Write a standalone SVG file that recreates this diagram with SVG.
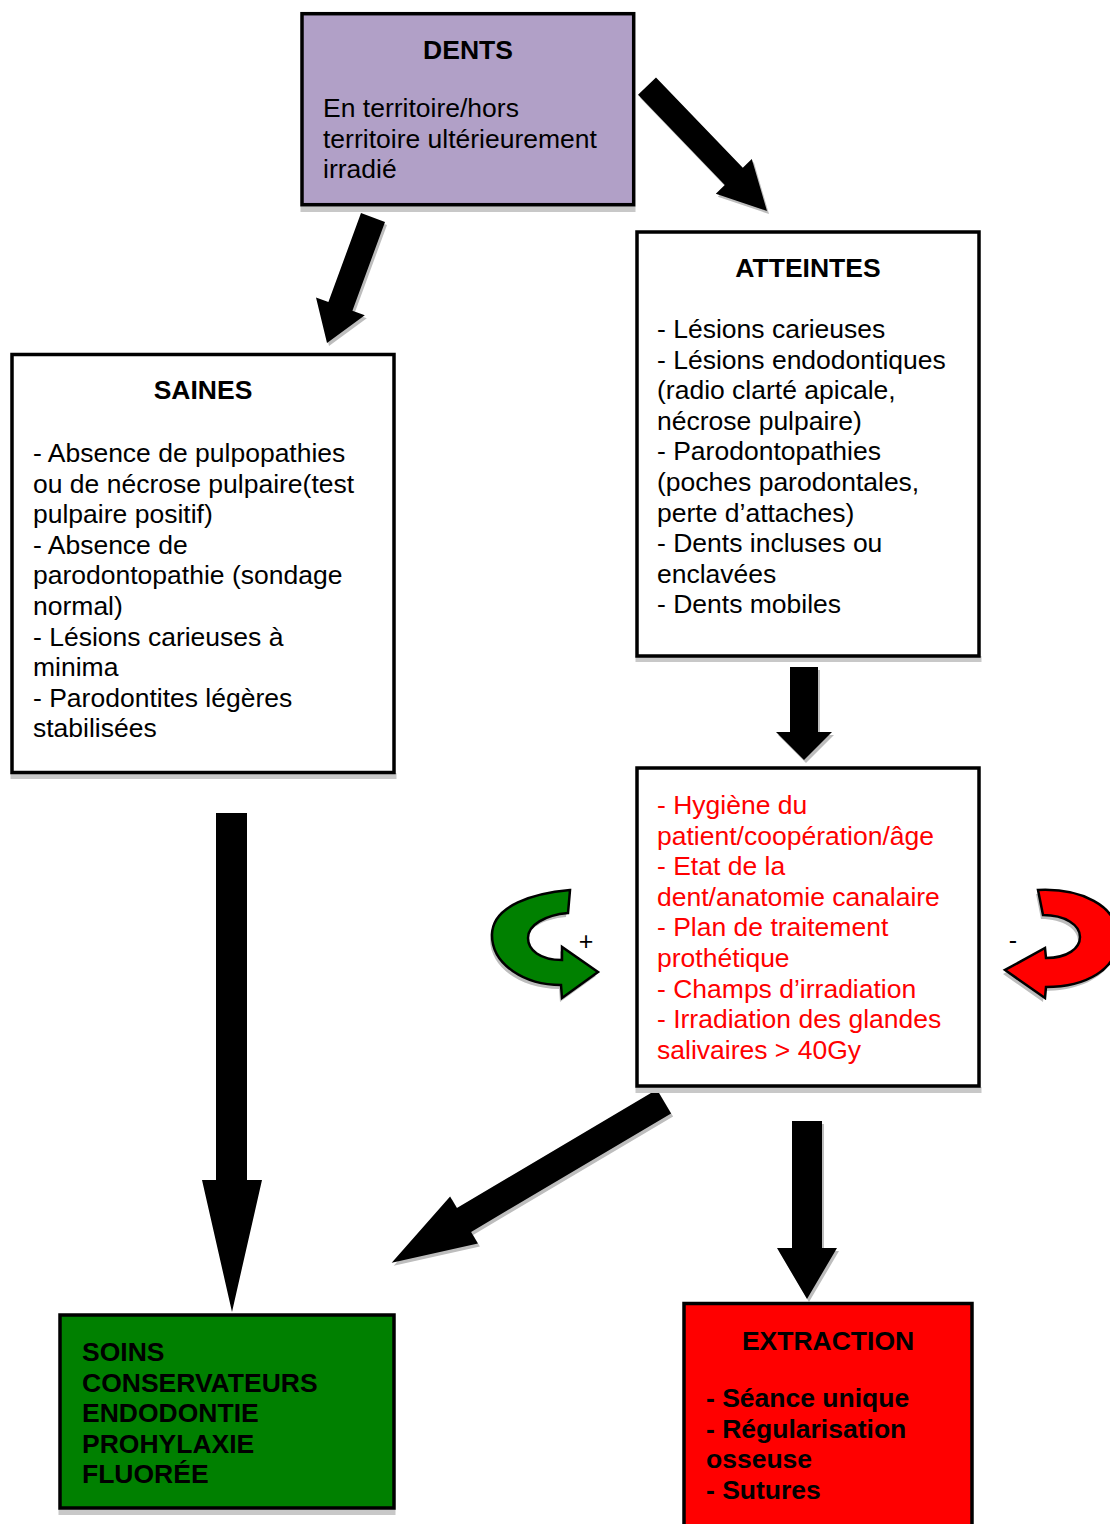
<svg xmlns="http://www.w3.org/2000/svg" width="1110" height="1524" viewBox="0 0 1110 1524">
<style>
.box{stroke:#000;stroke-width:3.5}
.sh{fill:#c8c8c8}
.t{font-family:"Liberation Sans",Arial,sans-serif;font-size:26.5px;fill:#000}
.b{font-weight:bold}
.red{fill:#ff0000}
.arr{fill:#000}
.ash{fill:#bdbdbd}
.curve{stroke:#000;stroke-width:2.5;stroke-linejoin:miter}
.sign{font-family:"Liberation Sans",Arial,sans-serif;font-size:25px;fill:#000}
</style>
<rect width="1110" height="1524" fill="#fff"/>

<g id="connectors">
  <g transform="translate(2,3)" class="ash">
    <polygon points="638,94.7 724.8,185.1 715.8,193.7 767,211 751.8,159.1 742.8,167.8 656,77.4"/>
    <polygon points="361,213.1 328.4,302 316,297.5 327,343 364.8,315.3 352.4,310.8 385,221.9"/>
    <polygon points="790,667 818,667 818,732 832,732 804,760 776,732 790,732"/>
    <polygon points="792,1121 822,1121 822,1248 837,1248 807,1299 777,1248 792,1248"/>
    <polygon points="656.9,1089.5 456.9,1207.9 450.1,1196.4 391.7,1262.7 477.9,1243.4 471.1,1231.9 671.1,1113.5"/>
  </g>
  <polygon id="a-dents-atteintes" class="arr" points="638,94.7 724.8,185.1 715.8,193.7 767,211 751.8,159.1 742.8,167.8 656,77.4"/>
  <polygon id="a-dents-saines" class="arr" points="361,213.1 328.4,302 316,297.5 327,343 364.8,315.3 352.4,310.8 385,221.9"/>
  <polygon id="a-atteintes-criteres" class="arr" points="790,667 818,667 818,732 832,732 804,760 776,732 790,732"/>
  <polygon id="a-saines-soins" class="arr" points="216,813 247,813 247,1180 262,1180 232,1312 202,1180 216,1180"/>
  <polygon id="a-criteres-extraction" class="arr" points="792,1121 822,1121 822,1248 837,1248 807,1299 777,1248 792,1248"/>
  <polygon id="a-criteres-soins" class="arr" points="656.9,1089.5 456.9,1207.9 450.1,1196.4 391.7,1262.7 477.9,1243.4 471.1,1231.9 671.1,1113.5"/>

  <g id="curve-plus">
    <path class="ash" transform="translate(-2,4)" d="M570,890 C535,893 492,905 492,935 C492,965 525,985 561,985 L562,998 L598,972 L562,947 L562,960 C540,960 528,950 528,938 C528,925 545,915 568,913 Z"/>
    <path class="curve" fill="#008000" d="M570,890 C535,893 492,905 492,935 C492,965 525,985 561,985 L562,998 L598,972 L562,947 L562,960 C540,960 528,950 528,938 C528,925 545,915 568,913 Z"/>
    <text class="sign" x="586" y="950" text-anchor="middle">+</text>
  </g>
  <g id="curve-minus">
    <path class="ash" transform="translate(-2,4)" d="M1038,890 C1080,888 1118,905 1118,938 C1118,970 1085,987 1046,987 L1045,998 L1005,970 L1045,948 L1046,958 C1068,958 1080,948 1080,937 C1080,925 1065,915 1043,915 Z"/>
    <path class="curve" fill="#ff0000" d="M1038,890 C1080,888 1118,905 1118,938 C1118,970 1085,987 1046,987 L1045,998 L1005,970 L1045,948 L1046,958 C1068,958 1080,948 1080,937 C1080,925 1065,915 1043,915 Z"/>
    <text class="sign" x="1013" y="949" text-anchor="middle">-</text>
  </g>
</g>

<g id="dents">
  <rect class="sh" x="300.5" y="206" width="335" height="6"/>
  <rect class="box" x="302" y="13.7" width="331.7" height="191" fill="#b1a0c7"/>
  <text class="t b" x="468" y="59" text-anchor="middle">DENTS</text>
  <text class="t" x="323" y="117"><tspan x="323">En territoire/hors</tspan><tspan x="323" dy="30.6">territoire ultérieurement</tspan><tspan x="323" dy="30.6">irradié</tspan></text>
</g>

<g id="atteintes">
  <rect class="sh" x="635.5" y="656" width="346" height="6"/>
  <rect class="box" x="637" y="232" width="342" height="424" fill="#fff"/>
  <text class="t b" x="808" y="277" text-anchor="middle">ATTEINTES</text>
  <text class="t" x="657" y="338"><tspan x="657">- Lésions carieuses</tspan><tspan x="657" dy="30.6">- Lésions endodontiques</tspan><tspan x="657" dy="30.6">(radio clarté apicale,</tspan><tspan x="657" dy="30.6">nécrose pulpaire)</tspan><tspan x="657" dy="30.6">- Parodontopathies</tspan><tspan x="657" dy="30.6">(poches parodontales,</tspan><tspan x="657" dy="30.6">perte d’attaches)</tspan><tspan x="657" dy="30.6">- Dents incluses ou</tspan><tspan x="657" dy="30.6">enclavées</tspan><tspan x="657" dy="30.6">- Dents mobiles</tspan></text>
</g>

<g id="saines">
  <rect class="sh" x="10.5" y="773" width="386" height="6"/>
  <rect class="box" x="12" y="354.5" width="382" height="418" fill="#fff"/>
  <text class="t b" x="203" y="399" text-anchor="middle">SAINES</text>
  <text class="t" x="33" y="462"><tspan x="33">- Absence de pulpopathies</tspan><tspan x="33" dy="30.6">ou de nécrose pulpaire(test</tspan><tspan x="33" dy="30.6">pulpaire positif)</tspan><tspan x="33" dy="30.6">- Absence de</tspan><tspan x="33" dy="30.6">parodontopathie (sondage</tspan><tspan x="33" dy="30.6">normal)</tspan><tspan x="33" dy="30.6">- Lésions carieuses à</tspan><tspan x="33" dy="30.6">minima</tspan><tspan x="33" dy="30.6">- Parodontites légères</tspan><tspan x="33" dy="30.6">stabilisées</tspan></text>
</g>

<g id="criteres">
  <rect class="sh" x="635.5" y="1087" width="346" height="6"/>
  <rect class="box" x="637" y="768" width="342" height="318" fill="#fff"/>
  <text class="t red" x="657" y="814"><tspan x="657">- Hygiène du</tspan><tspan x="657" dy="30.6">patient/coopération/âge</tspan><tspan x="657" dy="30.6">- Etat de la</tspan><tspan x="657" dy="30.6">dent/anatomie canalaire</tspan><tspan x="657" dy="30.6">- Plan de traitement</tspan><tspan x="657" dy="30.6">prothétique</tspan><tspan x="657" dy="30.6">- Champs d’irradiation</tspan><tspan x="657" dy="30.6">- Irradiation des glandes</tspan><tspan x="657" dy="30.6">salivaires &gt; 40Gy</tspan></text>
</g>

<g id="soins">
  <rect class="sh" x="58.5" y="1509" width="337" height="6"/>
  <rect class="box" x="60" y="1315" width="334" height="193" fill="#008000"/>
  <text class="t b" x="82" y="1361"><tspan x="82">SOINS</tspan><tspan x="82" dy="30.6">CONSERVATEURS</tspan><tspan x="82" dy="30.6">ENDODONTIE</tspan><tspan x="82" dy="30.6">PROHYLAXIE</tspan><tspan x="82" dy="30.6">FLUORÉE</tspan></text>
</g>

<g id="extraction">
  <rect class="box" x="684" y="1303.5" width="288" height="240" fill="#ff0000"/>
  <text class="t b" x="828" y="1350" text-anchor="middle">EXTRACTION</text>
  <text class="t b" x="706" y="1407"><tspan x="706">- Séance unique</tspan><tspan x="706" dy="30.6">- Régularisation</tspan><tspan x="706" dy="30.6">osseuse</tspan><tspan x="706" dy="30.6">- Sutures</tspan></text>
</g>
</svg>
